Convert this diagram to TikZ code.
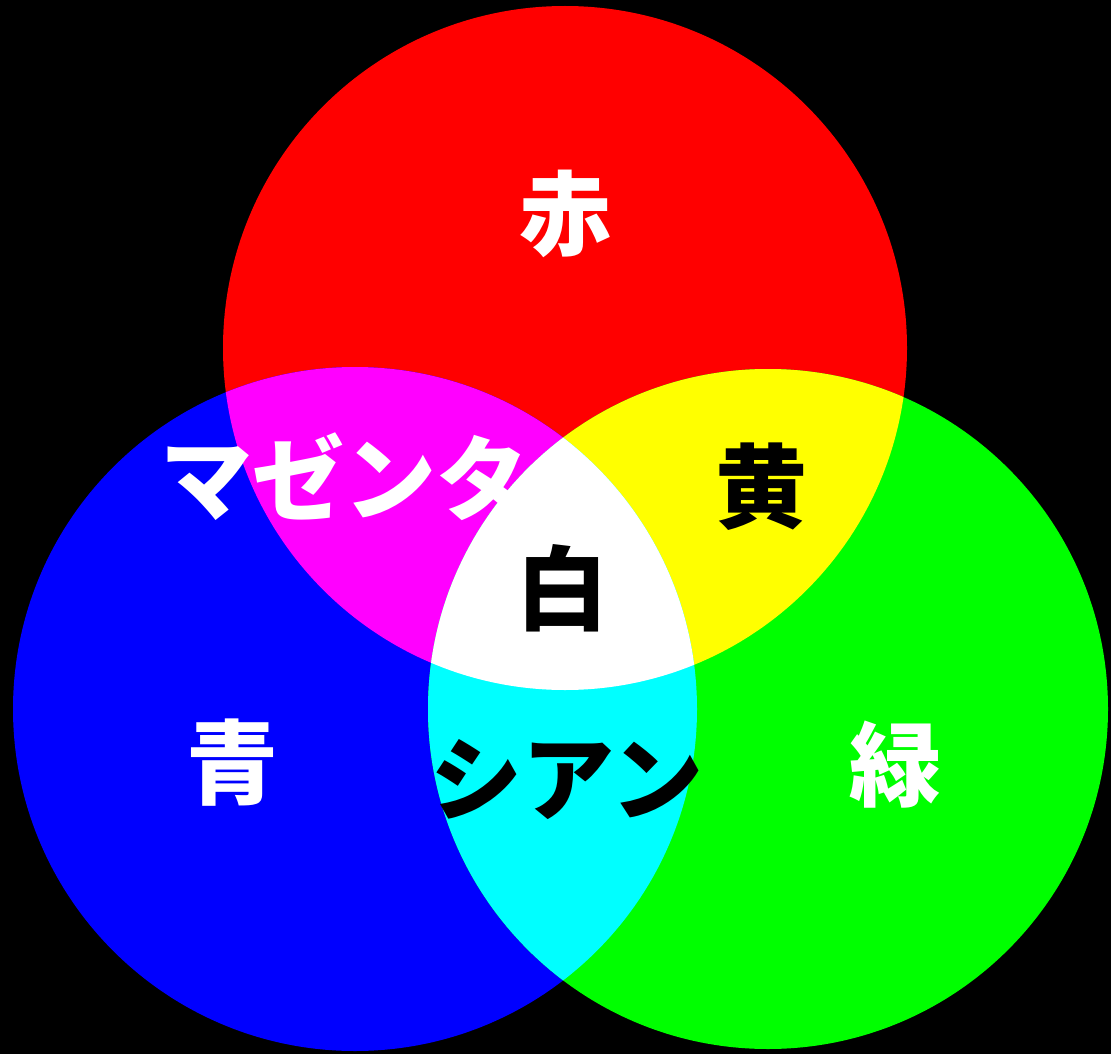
\documentclass[tikz,border=0pt]{standalone}
\usepackage{fontspec}
\newfontfamily\jp{Noto Sans CJK JP}
\definecolor{cR}{RGB}{255,0,0}
\definecolor{cG}{RGB}{0,255,0}
\definecolor{cB}{RGB}{0,0,255}
\definecolor{cM}{RGB}{255,0,255}
\definecolor{cY}{RGB}{255,255,0}
\definecolor{cC}{RGB}{0,255,255}
\definecolor{cW}{RGB}{255,255,255}
\begin{document}
\begin{tikzpicture}[x=1pt,y=-1pt,
  lab/.style={font=\jp\bfseries\fontsize{92}{92}\selectfont, inner sep=0pt, anchor=center}]
\fill[black] (0,0) rectangle (1111,1054);
\useasboundingbox (0,0) rectangle (1111,1054);
\def\R{(565,348) circle[radius=342]}
\def\B{(355,709) circle[radius=342]}
\def\G{(768,709) circle[radius=340]}
\fill[cR] \R;
\fill[cB] \B;
\fill[cG] \G;
\begin{scope}
  \clip \R; \fill[cM] \B;
\end{scope}
\begin{scope}
  \clip \R; \fill[cY] \G;
\end{scope}
\begin{scope}
  \clip \B; \fill[cC] \G;
\end{scope}
\begin{scope}
  \clip \R; \clip \B; \fill[cW] \G;
\end{scope}
\node[lab, text=white] (aka) at (565,214) {赤};
\node[lab, text=white] (mag) at (344,477) {マゼンタ};
\node[lab, text=black] (ki) at (761,487) {黄};
\node[lab, text=black] (shiro) at (562,588) {白};
\node[lab, text=white] (ao) at (232,763) {青};
\node[lab, text=black] (cyan) at (567,780) {シアン};
\node[lab, text=white] (midori) at (895,765) {緑};
\end{tikzpicture}
\end{document}
